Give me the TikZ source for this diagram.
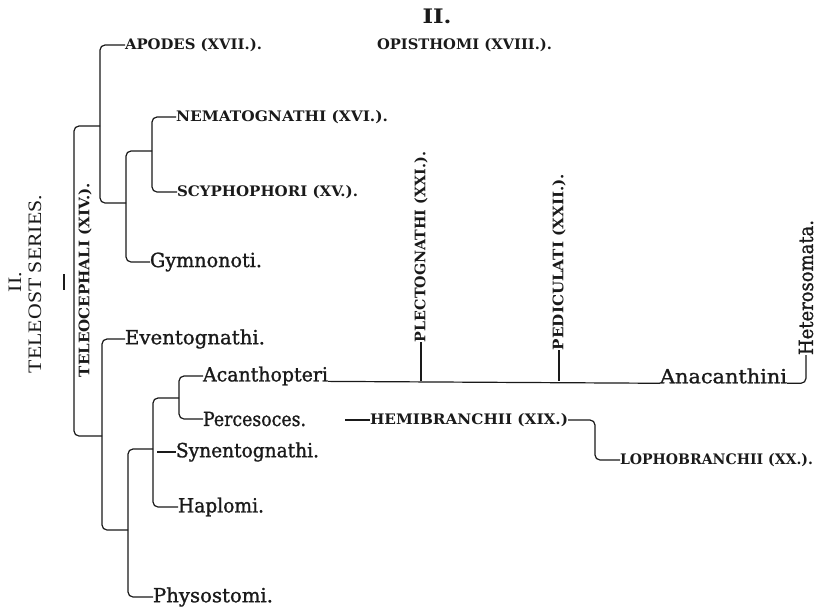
\documentclass[tikz,border=0pt]{standalone}
\usepackage{fontspec}
\usepackage{graphicx}
\newfontfamily\dvs{DejaVu Serif}
\newfontfamily\dvsb{DejaVu Serif}[BoldFont={DejaVu Serif}, BoldFeatures={FakeBold=1.2}]
\newfontfamily\lib{Liberation Serif}
\newcommand\capl[2]{\resizebox{#1pt}{\height}{\dvs\bfseries\fontsize{14.5}{15}\selectfont #2}}
\newcommand\lowl[2]{\resizebox{#1pt}{\height}{\dvsb\bfseries\fontsize{19.5}{20}\selectfont #2}}
\newcommand\tsl[2]{\resizebox{#1pt}{\height}{\lib\fontsize{19}{20}\selectfont #2}}
\definecolor{ink}{HTML}{1A1A1A}
\tikzset{
  lab/.style={inner sep=0pt, outer sep=0pt, text=ink},
  labw/.style={lab, anchor=west},
  vlab/.style={lab, rotate=90, anchor=west},
  br/.style={draw=ink, line width=1.2pt, rounded corners=5pt},
}
\begin{document}
\begin{tikzpicture}[x=1pt, y=-1pt]
\useasboundingbox[fill=white] (0,0) rectangle (831,611);
% titles
\node[lab] (title) at (437,16) {\resizebox{29pt}{\height}{\dvs\bfseries\fontsize{20}{21}\selectfont II.}};
\node[labw] (opis) at (377,45) {\capl{175}{OPISTHOMI (XVIII.).}};
% left series label
\node[lab, rotate=90] (ii) at (15,282) {\tsl{20}{II.}};
\node[lab, rotate=90] (teleost) at (35,284) {\tsl{178}{TELEOST SERIES.}};
\coordinate (tk1) at (64,274);
\coordinate (tk2) at (64,290);
\draw[br] (tk1) -- (tk2);
\node[lab, rotate=90] (teleoceph) at (85,280) {\capl{194}{TELEOCEPHALI (XIV.).}};
% upper group
\node[labw] (apodes) at (125,45) {\capl{137}{APODES (XVII.).}};
\node[labw] (nemat) at (176,117) {\capl{212}{NEMATOGNATHI (XVI.).}};
\node[labw] (scyph) at (177,192) {\capl{181}{SCYPHOPHORI (XV.).}};
\node[labw] (gymno) at (150,262) {\lowl{112}{Gymnonoti.}};
% lower group
\node[labw] (evento) at (125,339) {\lowl{140}{Eventognathi.}};
\node[labw] (acanth) at (203,376) {\lowl{125}{Acanthopteri}};
\node[labw] (perces) at (203,419) {\lowl{103}{Percesoces.}};
\node[labw] (synent) at (176,452) {\lowl{143}{Synentognathi.}};
\node[labw] (haplomi) at (178,507) {\lowl{86}{Haplomi.}};
\node[labw] (physo) at (153,597) {\lowl{120}{Physostomi.}};
\node[labw] (anacan) at (660,376) {\lowl{127}{Anacanthini}};
\node[vlab] (plecto) at (421,342) {\capl{190}{PLECTOGNATHI (XXI.).}};
\node[vlab] (pedic) at (559,350) {\capl{176}{PEDICULATI (XXII.).}};
\node[vlab] (hetero) at (806,355) {\lowl{135}{Heterosomata.}};
\node[labw] (hemi) at (370,420) {\capl{198}{HEMIBRANCHII (XIX.)}};
\node[labw] (lopho) at (620,460) {\capl{193}{LOPHOBRANCHII (XX.).}};
% brackets
\draw[br] (nemat.west) -- (152,117) -- (152,192) -- (scyph.west);
\draw[br] (gymno.west) -- (126,262) -- (126,151) -- (152,151);
\draw[br] (apodes.west) -- (100,45) -- (100,203) -- (126,203);
\draw[br] (100,126) -- (74,126) -- (74,436) -- (102,436);
\draw[br] (evento.west) -- (102,339) -- (102,530) -- (128,530);
\draw[br] (153,449) -- (128,449) -- (128,597) -- (physo.west);
\draw[br] (179,398) -- (153,398) -- (153,507) -- (haplomi.west);
\draw[br] (157,452) -- (synent.west);
\draw[br] (acanth.west) -- (179,376) -- (179,419) -- (perces.west);
\draw[br] (acanth.base east) -- (anacan.base west);
\draw[br] (plecto.west) -- (plecto.west |- acanth.base);
\draw[br] (pedic.west) -- (pedic.west |- acanth.base);
\draw[br] (anacan.base east) -- (hetero.west |- anacan.base) -- (hetero.west);
\coordinate (hm0) at (345,420);
\draw[br] (hm0) -- (hemi.west);
\draw[br] (hemi.east) -- (595,420) -- (595,460) -- (lopho.west);
\end{tikzpicture}
\end{document}
